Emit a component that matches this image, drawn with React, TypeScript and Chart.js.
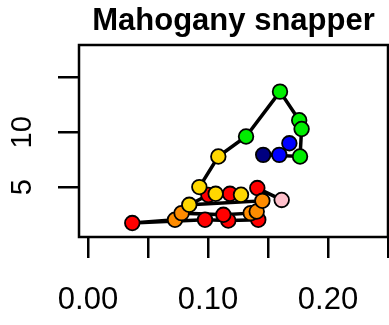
import { useEffect, useRef } from 'react';
import { Chart, registerables } from 'chart.js';

Chart.register(...registerables);

const titleText = 'Mahogany snapper';

// trajectory points (x = rate, y = value), in path order
const xValues = [0.1614, 0.1411, 0.1419, 0.1169, 0.0975, 0.0369, 0.0725, 0.078, 0.1128, 0.1356, 0.1406, 0.1453, 0.0844, 0.1003, 0.1183, 0.1275, 0.1064, 0.0928, 0.1086, 0.1317, 0.16, 0.176, 0.178, 0.1767, 0.146, 0.1594, 0.1678];
const yValues = [3.85, 4.93, 2.05, 1.98, 2.05, 1.75, 2.05, 2.65, 2.5, 2.65, 2.8, 3.77, 3.41, 4.3, 4.41, 4.32, 4.41, 5.02, 7.8, 9.62, 13.7, 11.1, 10.3, 7.8, 7.95, 7.95, 9.0];
const pointColors = [
  '#FFC0CB', '#FF0000', '#FF0000', '#FF0000', '#FF0000', '#FF0000',
  '#FF8C00', '#FF8C00', '#FF0000', '#FF8C00', '#FF8C00', '#FF8C00',
  '#FFD700', '#FF0000', '#FF0000', '#FFD700', '#FFD700', '#FFD700', '#FFD700',
  '#00EE00', '#00EE00', '#00EE00', '#00EE00', '#00EE00',
  '#000080', '#0000FF', '#0000FF',
];

const xTicks = [0, 0.05, 0.1, 0.15, 0.2, 0.25];
const xTickLabels = ['0.00', '', '0.10', '', '0.20', ''];
const yTicks = [5, 10, 15];
const yTickLabels = ['5', '10', ''];

const xMin = -0.0075;
const xMax = 0.25;
const yMin = 0.48;
const yMax = 17.94;

const FONT = "'Liberation Sans', Arial, Helvetica, sans-serif";

export default function App() {
  const canvasRef = useRef<HTMLCanvasElement | null>(null);

  useEffect(() => {
    const canvas = canvasRef.current;
    if (!canvas) return;

    const boxPlugin = {
      id: 'plotBox',
      afterDatasetsDraw(chart: any) {
        const { ctx, chartArea } = chart;
        ctx.save();
        ctx.strokeStyle = '#000';
        ctx.lineWidth = 2.5;
        ctx.strokeRect(chartArea.left, chartArea.top, chartArea.right - chartArea.left, chartArea.bottom - chartArea.top);
        ctx.restore();
      },
    };

    const chart = new Chart(canvas, {
      type: 'scatter',
      data: {
        datasets: [
          {
            data: xValues.map((x, i) => ({ x, y: yValues[i] })),
            showLine: true,
            borderColor: '#000',
            borderWidth: 3.5,
            tension: 0,
            pointRadius: 7.3,
            pointHoverRadius: 7.3,
            pointBorderWidth: 1.8,
            pointBorderColor: '#000',
            pointBackgroundColor: pointColors,
            clip: false as any,
          },
        ],
      },
      options: {
        responsive: false,
        animation: false,
        devicePixelRatio: 1,
        layout: { autoPadding: false, padding: { left: 0, right: 1, top: 0, bottom: 0 } },
        plugins: {
          legend: { display: false },
          tooltip: { enabled: false },
          title: {
            display: true,
            text: titleText,
            color: '#000',
            fullSize: false,
            font: { family: FONT, size: 31, weight: 'bold' },
            padding: { top: 3, bottom: 4.8 },
          },
        },
        scales: {
          x: {
            type: 'linear',
            min: xMin,
            max: xMax,
            afterBuildTicks: (s: any) => {
              s.ticks = xTicks.map((v) => ({ value: v }));
            },
            afterFit: (s: any) => {
              s.height = 88;
              s.paddingLeft = 0;
              s.paddingRight = 0;
              s.paddingTop = 0;
              s.paddingBottom = 0;
            },
            border: { display: false },
            grid: {
              drawOnChartArea: false,
              drawTicks: true,
              tickLength: 21,
              tickWidth: 2.5,
              tickColor: '#000',
              lineWidth: 2.5,
              color: '#000',
            },
            ticks: {
              color: '#000',
              padding: 24,
              maxRotation: 0,
              minRotation: 0,
              autoSkip: false,
              font: { family: FONT, size: 31 },
              callback: (v: any) => {
                const i = xTicks.findIndex((t) => Math.abs(t - Number(v)) < 1e-9);
                return i >= 0 ? xTickLabels[i] : '';
              },
            },
          },
          y: {
            type: 'linear',
            min: yMin,
            max: yMax,
            afterBuildTicks: (s: any) => {
              s.ticks = yTicks.map((v) => ({ value: v }));
            },
            afterFit: (s: any) => {
              s.width = 79;
              s.paddingLeft = 0;
              s.paddingRight = 0;
              s.paddingTop = 0;
              s.paddingBottom = 0;
            },
            border: { display: false },
            grid: {
              drawOnChartArea: false,
              drawTicks: true,
              tickLength: 21,
              tickWidth: 2.5,
              tickColor: '#000',
              lineWidth: 2.5,
              color: '#000',
            },
            ticks: {
              color: '#000',
              padding: 19,
              minRotation: 90,
              maxRotation: 90,
              crossAlign: 'center',
              autoSkip: false,
              font: { family: FONT, size: 29 },
              callback: (v: any) => {
                const i = yTicks.findIndex((t) => Math.abs(t - Number(v)) < 1e-9);
                return i >= 0 ? yTickLabels[i] : '';
              },
            },
          },
        },
      } as any,
      plugins: [boxPlugin],
    });

    return () => {
      chart.destroy();
    };
  }, []);

  return (
    <div style={{ position: 'absolute', left: 0, top: 0, width: 389, height: 325, background: '#fff' }}>
      <canvas ref={canvasRef} width={389} height={325} style={{ display: 'block', width: 389, height: 325 }} />
    </div>
  );
}
